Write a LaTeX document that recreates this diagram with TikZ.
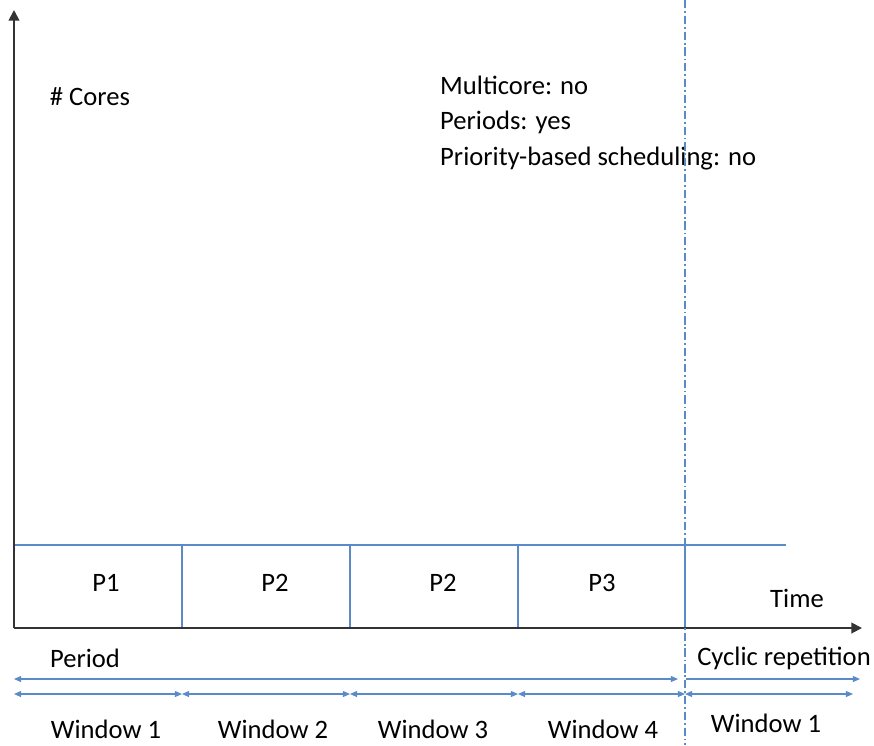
\documentclass[tikz,border=0pt]{standalone}
\usepackage{fontspec}
\setmainfont{Carlito}
\usetikzlibrary{arrows.meta, positioning, calc}
\definecolor{lineblue}{HTML}{5B8AC8}
\definecolor{axisgray}{HTML}{333333}

\tikzset{
  axisline/.style={line width=1.6pt, axisgray, -{Triangle[width=9pt,length=9pt]}},
  slotline/.style={line width=1pt, lineblue},
  spanline/.style={line width=1pt, lineblue, {Triangle[width=5pt,length=6pt]}-{Triangle[width=5pt,length=6pt]}},
  label/.style={font=\fontsize{22.7}{27}\selectfont, inner sep=0pt}
}

\begin{document}
\begin{tikzpicture}[x=0.03cm, y=-0.03cm]
  \useasboundingbox (0,0) rectangle (874,745);
  % corner points
  \coordinate (o) at (14,628);
  \coordinate (ytop) at (14,10);
  \coordinate (xend) at (862,628);
  \coordinate (tl) at (14,545);
  \coordinate (tr) at (786,545);

  % slots
  \draw[slotline] (tl) -- (tr);
  \foreach \x/\n in {182/a, 350/b, 518/c, 685/d} {
    \coordinate (top\n) at (\x,545);
    \coordinate (bot\n) at (\x,628);
    \draw[slotline] (top\n) -- (bot\n);
  }
  \node[label] (p1) at (106,583) {P1};
  \node[label] (p2) at (275,583) {P2};
  \node[label] (p2b) at (443,583) {P2};
  \node[label] (p3) at (602,583) {P3};

  % axes
  \draw[axisline] (o) -- (ytop);
  \draw[axisline] (o) -- (xend);
  \node[label] (time) at (797,598) {Time};
  \node[label] (cores) at (90,97) {\# Cores};

  % properties
  \node[label, anchor=north west, align=left] (props) at (440,76)
    {Multicore: no\\[3pt]Periods: yes\\[3pt]Priority-based scheduling: no};

  % end of period
  \coordinate (cuttop) at (685,0);
  \coordinate (cutbot) at (685,745);
  \draw[lineblue, line width=0.9pt, dash pattern=on 7pt off 2.5pt on 1.5pt off 2.5pt] (cuttop) -- (cutbot);

  % period and repetition
  \coordinate (ps) at (14,679);
  \coordinate (pe) at (678,679);
  \coordinate (cs) at (686,679);
  \coordinate (ce) at (860,679);
  \draw[spanline] (ps) -- (pe);
  \draw[spanline, {-Triangle[width=5pt,length=6pt]}] (cs) -- (ce);
  \node[label] (period) at (85,658) {Period};
  \node[label] (cyclic) at (784,658) {Cyclic repetition};

  % windows
  \foreach \a/\b/\t/\xl/\yl [count=\i] in {14/182/Window 1/106/729, 182/350/Window 2/273/729,
      350/518/Window 3/433/729, 518/685/Window 4/603/729, 685/853/Window 1/766/723} {
    \coordinate (ws\i) at (\a,694);
    \coordinate (we\i) at (\b,694);
    \draw[spanline] (ws\i) -- (we\i);
    \node[label] (w\i) at (\xl,\yl) {\t};
  }
\end{tikzpicture}
\end{document}
